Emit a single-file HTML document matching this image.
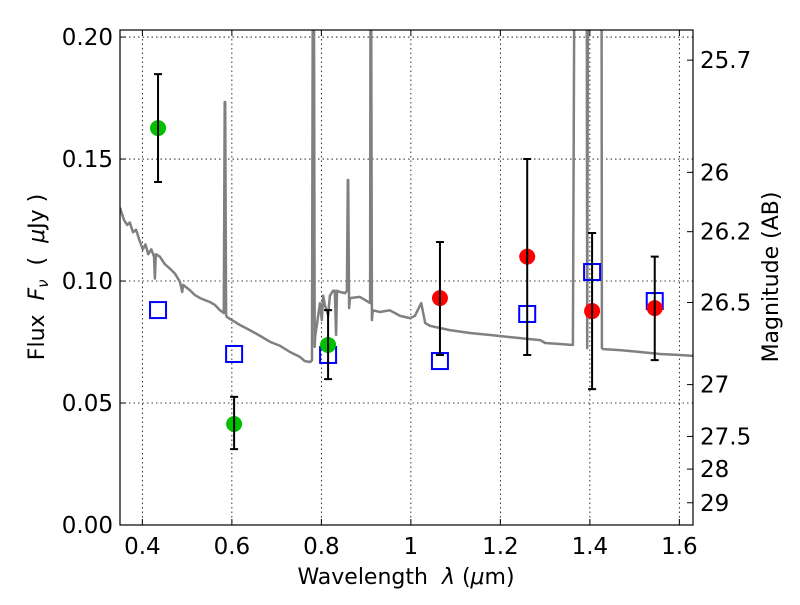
<!DOCTYPE html>
<html><head><meta charset="utf-8"><style>
html,body{margin:0;padding:0;background:#fff;}
svg text{font-family:"DejaVu Sans","Liberation Sans",sans-serif;}
</style></head><body>
<svg id="chart" width="800" height="600" xmlns="http://www.w3.org/2000/svg">
<defs><clipPath id="clip"><rect x="120" y="30" width="573" height="495"/></clipPath></defs>
<rect x="0" y="0" width="800" height="600" fill="#fff"/>
<g id="grid"></g>
<g id="spec" clip-path="url(#clip)"></g>
<g id="marks" clip-path="url(#clip)"></g>
<rect x="120" y="30" width="573" height="495" fill="none" stroke="#000" stroke-width="1.2"/>
<g id="axes"></g>
<text x="406" y="584" font-size="22" text-anchor="middle">Wavelength&#160;&#160;<tspan font-style="italic">λ</tspan> (<tspan font-style="italic">μ</tspan>m)</text>
<text transform="translate(44,277) rotate(-90)" font-size="22" text-anchor="middle">Flux&#160;&#160;<tspan font-style="italic">F<tspan font-size="15" dy="4">ν</tspan></tspan><tspan dy="-4">&#160;&#160;(&#160;&#160;</tspan><tspan font-style="italic">μ</tspan>Jy )</text>
<text transform="translate(778,277) rotate(-90)" font-size="22" text-anchor="middle">Magnitude (AB)</text>
</svg>
<script>
const xTicks=[0.4,0.6,0.8,1.0,1.2,1.4,1.6];
const xTickLabels=["0.4","0.6","0.8","1","1.2","1.4","1.6"];
const yTicks=[0,0.05,0.10,0.15,0.20];
const yTickLabels=["0.00","0.05","0.10","0.15","0.20"];
const magTicks=[25.7,26,26.2,26.5,27,27.5,28,29];
const magTickLabels=["25.7","26","26.2","26.5","27","27.5","28","29"];
const specWl=[0.350,0.359,0.366,0.372,0.379,0.386,0.393,0.401,0.407,0.413,0.420,0.426,0.428,0.430,0.439,0.450,0.462,0.473,0.484,0.489,0.491,0.506,0.517,0.529,0.540,0.551,0.562,0.573,0.582,0.584,0.585,0.587,0.589,0.600,0.618,0.640,0.663,0.686,0.708,0.730,0.752,0.763,0.775,0.779,0.781,0.783,0.785,0.786,0.797,0.801,0.804,0.808,0.815,0.819,0.826,0.830,0.833,0.835,0.842,0.853,0.857,0.859,0.860,0.862,0.864,0.886,0.909,0.910,0.911,0.913,0.915,0.931,0.953,0.976,0.998,1.009,1.023,1.032,1.043,1.087,1.132,1.177,1.222,1.266,1.289,1.300,1.333,1.362,1.366,1.393,1.394,1.396,1.426,1.427,1.430,1.467,1.512,1.557,1.601,1.630];
const specFlux=[0.130,0.125,0.123,0.124,0.120,0.121,0.117,0.113,0.115,0.111,0.113,0.110,0.101,0.111,0.110,0.107,0.105,0.103,0.0996,0.0955,0.0984,0.0963,0.0943,0.0930,0.0922,0.0914,0.0902,0.0881,0.0869,0.1734,0.1734,0.0861,0.0852,0.0840,0.0820,0.0799,0.0775,0.0750,0.0734,0.0709,0.0689,0.0672,0.0668,0.0676,0.25,0.25,0.0730,0.0770,0.0909,0.0840,0.0940,0.0900,0.0860,0.0940,0.0960,0.0960,0.0779,0.0960,0.0955,0.0950,0.0960,0.1414,0.1414,0.0889,0.0930,0.0935,0.0910,0.25,0.25,0.0840,0.0880,0.0873,0.0880,0.0857,0.0848,0.0857,0.0910,0.0828,0.0816,0.0799,0.0787,0.0779,0.0770,0.0762,0.0758,0.0746,0.0742,0.0738,0.25,0.25,0.0725,0.25,0.25,0.0725,0.0721,0.0717,0.0709,0.0701,0.0697,0.0693];
const greenWl=[0.435,0.605,0.815];
const greenFlux=[0.1627,0.0414,0.0738];
const greenLo=[0.1406,0.0311,0.0598];
const greenHi=[0.1848,0.0525,0.0881];
const redWl=[1.065,1.26,1.405,1.545];
const redFlux=[0.0930,0.1100,0.0877,0.0889];
const redLo=[0.0697,0.0697,0.0557,0.0676];
const redHi=[0.1160,0.1500,0.1197,0.1100];
const modelWl=[0.435,0.605,0.815,1.065,1.26,1.405,1.545];
const modelFlux=[0.0881,0.0701,0.0697,0.0672,0.0865,0.1037,0.0918];

const X0=120,X1=693,Y0=525,Y1=30,xmin=0.35,xmax=1.6305,ymin=0,ymax=0.2029;
function xs(v){return X0+(v-xmin)/(xmax-xmin)*(X1-X0);}
function ys(v){return Y0-(v-ymin)/(ymax-ymin)*(Y0-Y1);}
function magToFlux(m){return Math.pow(10,(23.9-m)/2.5);}
const NS='http://www.w3.org/2000/svg';
function mk(tag,attrs,parent){const e=document.createElementNS(NS,tag);for(const k in attrs)e.setAttribute(k,attrs[k]);parent.appendChild(e);return e;}
const grid=document.getElementById('grid'),axes=document.getElementById('axes'),spec=document.getElementById('spec'),marks=document.getElementById('marks');

xTicks.forEach((t,i)=>{const x=xs(t);
 let g=mk('line',{x1:x,x2:x,y1:Y1,y2:Y0,stroke:'#000','stroke-width':0.8,'stroke-dasharray':'1.5,3'},grid);
 
 
 let a=mk('line',{x1:x,x2:x,y1:Y0,y2:Y0-6,stroke:'#000','stroke-width':1},axes);
 
 
 let b=mk('line',{x1:x,x2:x,y1:Y1,y2:Y1+6,stroke:'#000','stroke-width':1},axes);
 
 
 let tx=mk('text',{x:x,y:Y0+29,'font-size':23,'text-anchor':'middle'},axes);tx.textContent=xTickLabels[i];
 
 
});
yTicks.forEach((t,i)=>{const y=ys(t);
 let g=mk('line',{x1:X0,x2:X1,y1:y,y2:y,stroke:'#000','stroke-width':0.8,'stroke-dasharray':'1.5,3'},grid);
 
 
 let a=mk('line',{x1:X0,x2:X0+6,y1:y,y2:y,stroke:'#000','stroke-width':1},axes);
 
 
 let tx=mk('text',{x:X0-7,y:y+8,'font-size':23,'text-anchor':'end'},axes);tx.textContent=yTickLabels[i];
 
 
});
magTicks.forEach((m,i)=>{const y=ys(magToFlux(m));
 let a=mk('line',{x1:X1-6,x2:X1,y1:y,y2:y,stroke:'#000','stroke-width':1},axes);
 
 
 let tx=mk('text',{x:X1+7,y:y+8,'font-size':23,'text-anchor':'start'},axes);tx.textContent=magTickLabels[i];
 
 
});
let d=specWl.map((w,i)=>(i?'L':'M')+xs(w).toFixed(1)+','+ys(specFlux[i]).toFixed(1)).join(' ');
let sp=mk('path',{d:d,fill:'none',stroke:'#808080','stroke-width':2.5,'stroke-linejoin':'round'},spec);


modelWl.forEach((w,i)=>{
 let r=mk('rect',{x:xs(w)-8,y:ys(modelFlux[i])-8,width:16,height:16,fill:'none',stroke:'#0000ff','stroke-width':2},marks);
 
 
});
function pts(wl,fl,lo,hi,col,name){
 wl.forEach((w,i)=>{
  let c=mk('circle',{cx:xs(w),cy:ys(fl[i]),r:8,fill:col},marks);
  
  
 });
 wl.forEach((w,i)=>{const x=xs(w),a=ys(lo[i]),b=ys(hi[i]);
  let e=mk('path',{d:`M${x},${a}L${x},${b}M${x-4},${a}L${x+4},${a}M${x-4},${b}L${x+4},${b}`,stroke:'#000','stroke-width':2,fill:'none'},marks);
  
  
 });
}
pts(greenWl,greenFlux,greenLo,greenHi,'#00c000','optical-flux-point');
pts(redWl,redFlux,redLo,redHi,'#ff0000','nir-flux-point');
</script>
</body></html>
